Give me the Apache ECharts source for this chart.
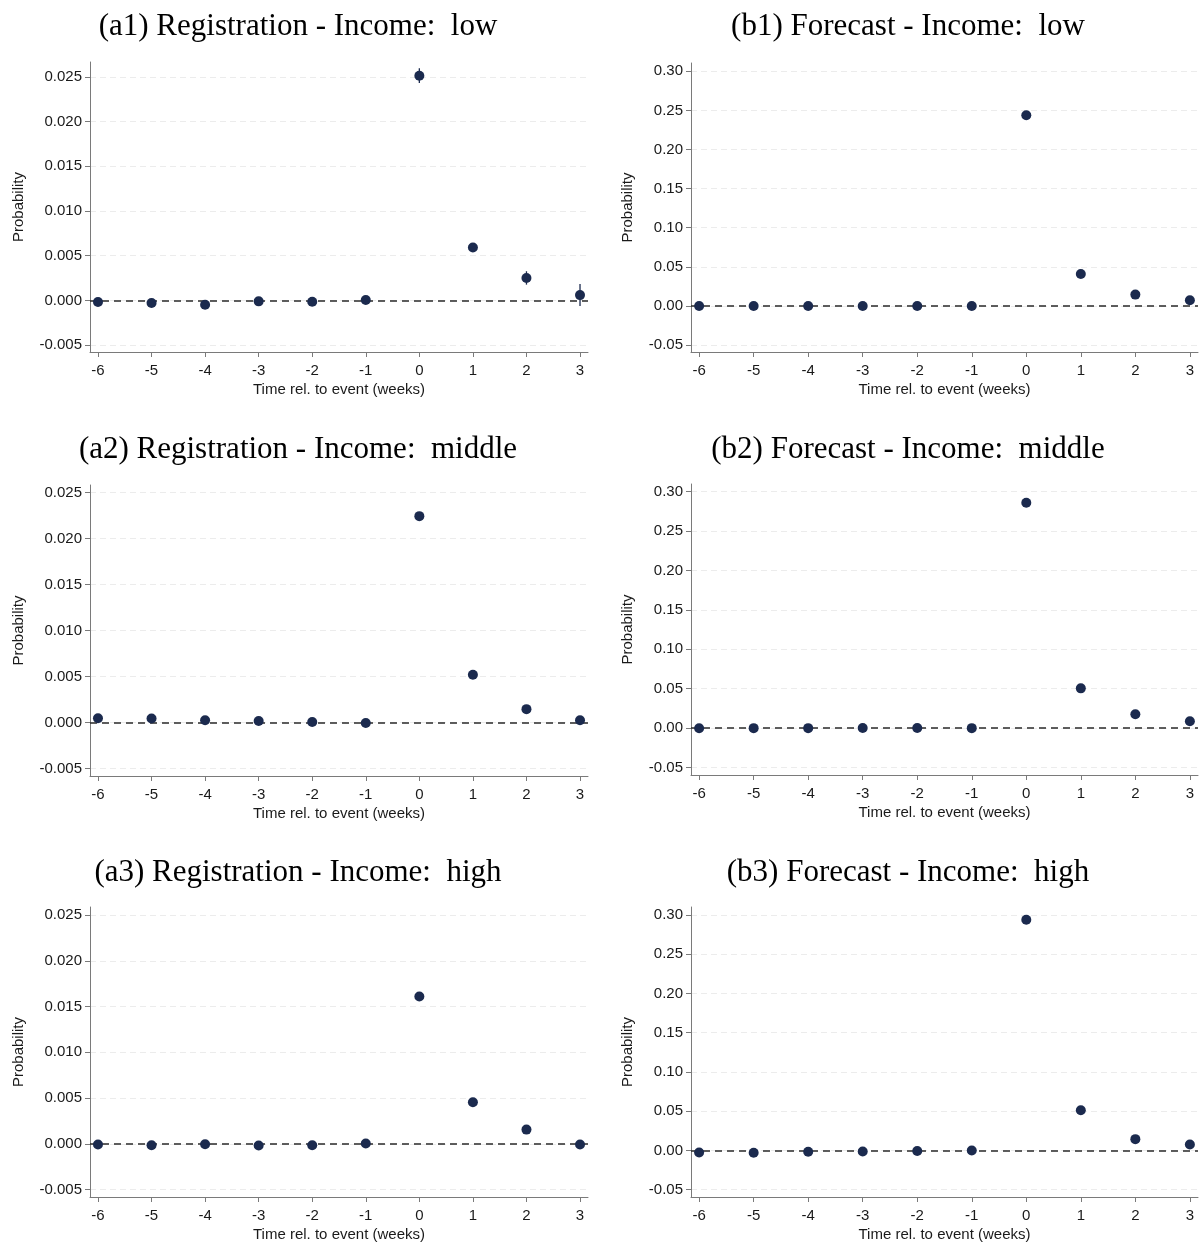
<!DOCTYPE html>
<html>
<head>
<meta charset="utf-8">
<script src="https://cdn.jsdelivr.net/npm/echarts@6/dist/echarts.min.js"></script>
<style>
html,body{margin:0;padding:0;background:#fff;}
#chart{width:1199px;height:1243px;}
</style>
</head>
<body>
<div id="chart"></div>
<script>
// ---------- data ----------
const weeks = [-6, -5, -4, -3, -2, -1, 0, 1, 2, 3];
const xTicks = [-6, -5, -4, -3, -2, -1, 0, 1, 2, 3];
const regTicks = [-0.005, 0, 0.005, 0.010, 0.015, 0.020, 0.025];
const fcTicks = [-0.05, 0, 0.05, 0.10, 0.15, 0.20, 0.25, 0.30];

const regLow     = [-0.00019, -0.00030, -0.00049, -0.00011, -0.00015, 0.00004, 0.02515, 0.00591, 0.00251, 0.00059];
const regLowErr  = [0.00020, 0.00020, 0.00020, 0.00020, 0.00020, 0.00020, 0.00082, 0.00050, 0.00075, 0.00123];
const regMid     = [0.00047, 0.00044, 0.00025, 0.00018, 0.00007, -0.00004, 0.02242, 0.00520, 0.00146, 0.00025];
const regMidErr  = [0.00020, 0.00020, 0.00020, 0.00020, 0.00020, 0.00020, 0.00040, 0.00030, 0.00030, 0.00030];
const regHigh    = [-0.00007, -0.00015, -0.00004, -0.00018, -0.00015, 0.00004, 0.01610, 0.00454, 0.00156, -0.00007];
const regHighErr = [0.00020, 0.00020, 0.00020, 0.00020, 0.00020, 0.00020, 0.00040, 0.00030, 0.00030, 0.00030];
const fcLow      = [-0.0002, -0.0001, -0.0001, 0.0000, 0.0000, 0.0000, 0.2439, 0.0408, 0.0145, 0.0072];
const fcLowErr   = [0.002, 0.002, 0.002, 0.002, 0.002, 0.002, 0.003, 0.002, 0.002, 0.002];
const fcMid      = [-0.0003, -0.0002, -0.0002, 0.0000, 0.0000, -0.0002, 0.2860, 0.0503, 0.0174, 0.0085];
const fcMidErr   = [0.002, 0.002, 0.002, 0.002, 0.002, 0.002, 0.003, 0.002, 0.002, 0.002];
const fcHigh     = [-0.0025, -0.0030, -0.0017, -0.0013, -0.0008, 0.0000, 0.2940, 0.0513, 0.0144, 0.0076];
const fcHighErr  = [0.002, 0.002, 0.002, 0.002, 0.002, 0.002, 0.003, 0.002, 0.002, 0.002];

const titles = [
  '(a1) Registration - Income:  low',
  '(b1) Forecast - Income:  low',
  '(a2) Registration - Income:  middle',
  '(b2) Forecast - Income:  middle',
  '(a3) Registration - Income:  high',
  '(b3) Forecast - Income:  high'
];

// ---------- layout ----------
const panels = [
  {vals: regLow,  err: regLowErr,  kind: 'a', grid: {left: 90,  top: 62,  width: 498, height: 290}, ymin: -0.00578, ymax: 0.02668, tx: 298, ty: 27},
  {vals: fcLow,   err: fcLowErr,   kind: 'b', grid: {left: 691, top: 63,  width: 507, height: 289}, ymin: -0.0589,  ymax: 0.3106,  tx: 908, ty: 27},
  {vals: regMid,  err: regMidErr,  kind: 'a', grid: {left: 90,  top: 485, width: 498, height: 291}, ymin: -0.0058,  ymax: 0.0258,  tx: 298, ty: 450},
  {vals: fcMid,   err: fcMidErr,   kind: 'b', grid: {left: 691, top: 484, width: 507, height: 291}, ymin: -0.0597,  ymax: 0.3098,  tx: 908, ty: 450},
  {vals: regHigh, err: regHighErr, kind: 'a', grid: {left: 90,  top: 907, width: 498, height: 291}, ymin: -0.0058,  ymax: 0.02587, tx: 298, ty: 873},
  {vals: fcHigh,  err: fcHighErr,  kind: 'b', grid: {left: 691, top: 907, width: 507, height: 291}, ymin: -0.0593,  ymax: 0.3102,  tx: 908, ty: 873}
];

const MARK = '#1b2a4e';
const AXIS = '#7a7a7a';
const TXT = '#1a1a1a';
const SANS = 'Liberation Sans, Arial, sans-serif';

const grids = [], xAxes = [], yAxes = [], series = [], graphics = [];

panels.forEach((p, i) => {
  grids.push(Object.assign({containLabel: false}, p.grid));
  xAxes.push({
    type: 'value', gridIndex: i, min: -6.149, max: 3.149,
    name: 'Time rel. to event (weeks)', nameLocation: 'middle', nameGap: 30,
    nameTextStyle: {fontFamily: SANS, fontSize: 15, color: TXT},
    axisLine: {show: true, onZero: false, lineStyle: {color: AXIS, width: 1}},
    axisTick: {show: true, length: 5, customValues: xTicks, lineStyle: {color: AXIS}},
    axisLabel: {customValues: xTicks, margin: 11, fontFamily: SANS, fontSize: 15, color: TXT,
      formatter: v => String(Math.round(v))},
    splitLine: {show: false}
  });
  const ticks = p.kind === 'a' ? regTicks : fcTicks;
  const dec = p.kind === 'a' ? 3 : 2;
  yAxes.push({
    type: 'value', gridIndex: i, min: p.ymin, max: p.ymax,
    name: 'Probability', nameLocation: 'middle', nameRotate: 90,
    nameGap: p.kind === 'a' ? 64 : 56,
    nameTextStyle: {fontFamily: SANS, fontSize: 15, color: TXT},
    axisLine: {show: true, onZero: false, lineStyle: {color: AXIS, width: 1}},
    axisTick: {show: true, length: 5, customValues: ticks, lineStyle: {color: AXIS}},
    axisLabel: {customValues: ticks, margin: 8, fontFamily: SANS, fontSize: 15, color: TXT,
      formatter: v => (Math.abs(v) < 1e-12 ? 0 : v).toFixed(dec)},
    splitLine: {show: true, lineStyle: {color: '#ececec', width: 1, type: [6, 4]}}
  });

  const errData = weeks.map((w, k) => [w, p.vals[k] - p.err[k], p.vals[k] + p.err[k]]);
  series.push({
    type: 'custom', xAxisIndex: i, yAxisIndex: i, z: 2, silent: true,
    data: errData,
    renderItem: (params, api) => {
      const lo = api.coord([api.value(0), api.value(1)]);
      const hi = api.coord([api.value(0), api.value(2)]);
      return {type: 'line', shape: {x1: lo[0], y1: lo[1], x2: hi[0], y2: hi[1]},
        style: {stroke: MARK, lineWidth: 1.3}};
    },
    markLine: {
      silent: true, symbol: 'none', label: {show: false}, z: 1,
      lineStyle: {color: '#2a2a2a', width: 1.5, type: [7, 5]},
      data: [{yAxis: 0}]
    }
  });
  series.push({
    type: 'scatter', xAxisIndex: i, yAxisIndex: i, z: 3, silent: true,
    symbol: 'circle', symbolSize: 10,
    itemStyle: {color: MARK, opacity: 1},
    data: weeks.map((w, k) => [w, p.vals[k]])
  });

  graphics.push({
    type: 'text', x: p.tx, y: p.ty, silent: true,
    style: {text: titles[i], fontFamily: 'Liberation Serif, Times New Roman, serif', fontSize: 31,
      fill: '#000', align: 'center', verticalAlign: 'middle'}
  });
});

const chart = echarts.init(document.getElementById('chart'), null, {renderer: 'canvas'});
chart.setOption({
  backgroundColor: '#ffffff',
  animation: false,
  grid: grids, xAxis: xAxes, yAxis: yAxes, series: series,
  graphic: graphics
});
</script>
</body>
</html>
